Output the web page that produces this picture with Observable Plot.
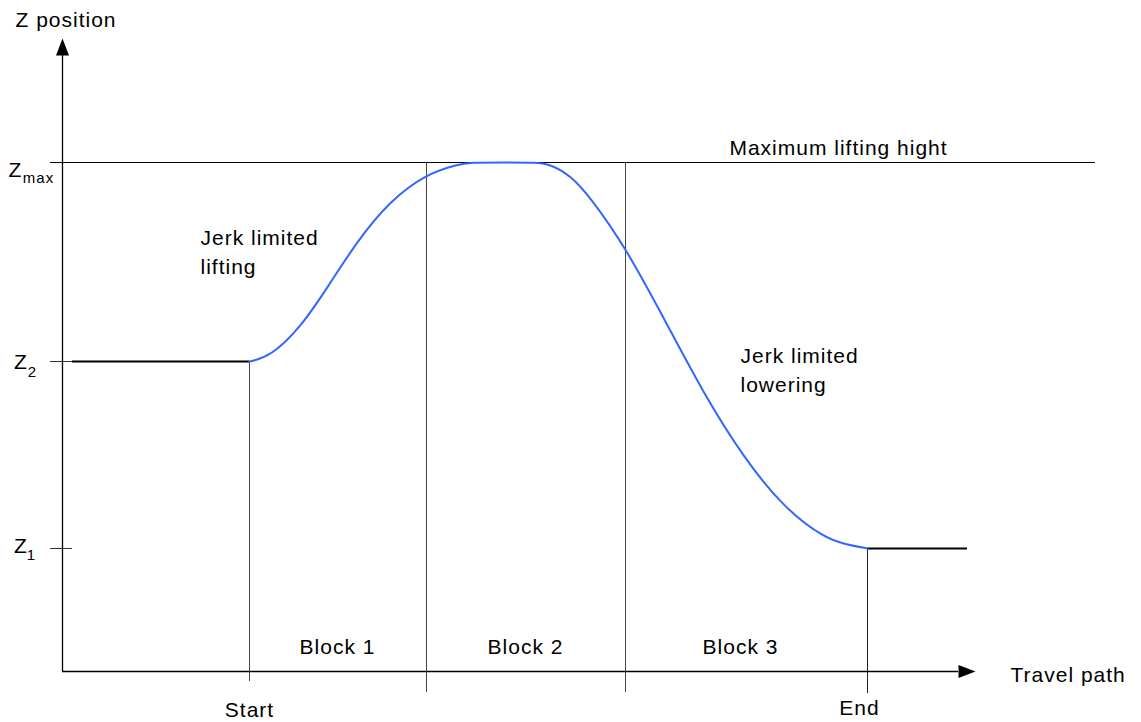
<!DOCTYPE html>
<html>
<head>
<meta charset="utf-8">
<script src="https://cdn.jsdelivr.net/npm/d3@7"></script>
<script src="https://cdn.jsdelivr.net/npm/@observablehq/plot@0.6"></script>
<style>
  html, body { margin: 0; padding: 0; background: #fff; }
  #chart svg { display: block; font-family: "Liberation Sans", Arial, sans-serif; }
  #chart svg text { letter-spacing: 1px; }
</style>
</head>
<body>
<div id="chart"></div>
<script>
// Z levels (abstract travel/height units)
const zLevels = [
  {name: "Zmax", base: "Z", sub: "max", z: 509},
  {name: "Z2", base: "Z", sub: "2", z: 310},
  {name: "Z1", base: "Z", sub: "1", z: 123}
];
// Travel positions of the block boundaries
const startX = 187, block12X = 364, block23X = 563, endX = 805;
const travelEnd = 905; // end of the lowered plateau
// Jerk-limited lift / lower profile
const pathX = [187, 208, 238, 265, 295, 328, 363, 395, 408, 441, 475, 488, 508, 528, 563, 601, 641, 681, 721, 761, 783, 805];
const pathZ = [310, 315, 344, 384, 431, 471, 497, 507, 509, 509, 509, 507, 496, 474, 424, 354, 278, 214, 164, 134, 127, 123];
const blockLabels = ["Block 1", "Block 2", "Block 3"];
const blockCenters = [275, 463, 678];

const profile = pathX.map((x, i) => ({x, z: pathZ[i]}));
const blocks = blockLabels.map((label, i) => ({label, x: blockCenters[i]}));

const arrowHead = {
  draw(ctx) {
    ctx.moveTo(0, -17);
    ctx.lineTo(6.5, 0);
    ctx.lineTo(-6.5, 0);
    ctx.closePath();
  }
};

const [zmax, z2, z1] = zLevels;
const FS = 21, SUB = 15;

const chart = Plot.plot({
  width: 1141,
  height: 722,
  margin: 0,
  x: {domain: [-62, 1079], axis: null},
  y: {domain: [-51, 671], axis: null},
  style: {fontFamily: "'Liberation Sans', Arial, sans-serif", background: "#fff"},
  marks: [
    // axes
    Plot.ruleX([0], {y1: 0, y2: 616, stroke: "#000", strokeWidth: 1.3}),
    Plot.ruleY([0], {x1: 0, x2: 896, stroke: "#000", strokeWidth: 1.3}),
    Plot.dot([{x: 0, z: 616}], {x: "x", y: "z", symbol: arrowHead, fill: "#000", stroke: null}),
    Plot.dot([{x: 896, z: 0}], {x: "x", y: "z", symbol: arrowHead, rotate: 90, fill: "#000", stroke: null}),
    // max lifting height line
    Plot.ruleY([zmax.z], {x1: -12, x2: 1033, stroke: "#000", strokeWidth: 1}),
    // ticks for Z2, Z1
    Plot.ruleY([z2.z, z1.z], {x1: -12, x2: 10, stroke: "#333", strokeWidth: 1}),
    // block boundaries
    Plot.ruleX([startX], {y1: -10, y2: z2.z, stroke: "#444", strokeWidth: 1}),
    Plot.ruleX([block12X, block23X], {y1: -21, y2: zmax.z, stroke: "#444", strokeWidth: 1}),
    Plot.ruleX([endX], {y1: -22, y2: z1.z, stroke: "#222", strokeWidth: 1}),
    // plateaus
    Plot.ruleY([z2.z], {x1: 10, x2: startX, stroke: "#000", strokeWidth: 2}),
    Plot.ruleY([z1.z], {x1: endX, x2: travelEnd, stroke: "#000", strokeWidth: 2}),
    // profile
    Plot.line(profile, {x: "x", y: "z", curve: "basis", stroke: "#3366ff", strokeWidth: 2}),
    // labels
    Plot.text(["Z position"], {x: -47, y: 651, textAnchor: "start", fontSize: FS}),
    Plot.text(["Travel path"], {x: 948, y: -4, textAnchor: "start", fontSize: FS}),
    Plot.text(["Maximum lifting hight"], {x: 776, y: 523, fontSize: FS}),
    Plot.text(["Jerk limited\nlifting"], {x: 138, y: 421, textAnchor: "start", fontSize: FS, lineHeight: 1.35}),
    Plot.text(["Jerk limited\nlowering"], {x: 678, y: 303, textAnchor: "start", fontSize: FS, lineHeight: 1.35}),
    Plot.text(blocks, {x: "x", y: 24, text: "label", fontSize: FS}),
    Plot.text(["Start"], {x: startX, y: -39, fontSize: FS}),
    Plot.text(["End"], {x: endX - 8, y: -37, fontSize: FS}),
    // Z level labels with subscripts
    Plot.text([zmax.base], {x: -47, y: 501, fontSize: FS}),
    Plot.text([zmax.sub], {x: -24, y: 493, fontSize: SUB}),
    Plot.text([z2.base], {x: -41.5, y: 309, fontSize: FS}),
    Plot.text([z2.sub], {x: -30, y: 299, fontSize: SUB}),
    Plot.text([z1.base], {x: -41.5, y: 125.5, fontSize: FS}),
    Plot.text([z1.sub], {x: -31, y: 116, fontSize: SUB})
  ]
});
document.getElementById("chart").appendChild(chart);
</script>
</body>
</html>
